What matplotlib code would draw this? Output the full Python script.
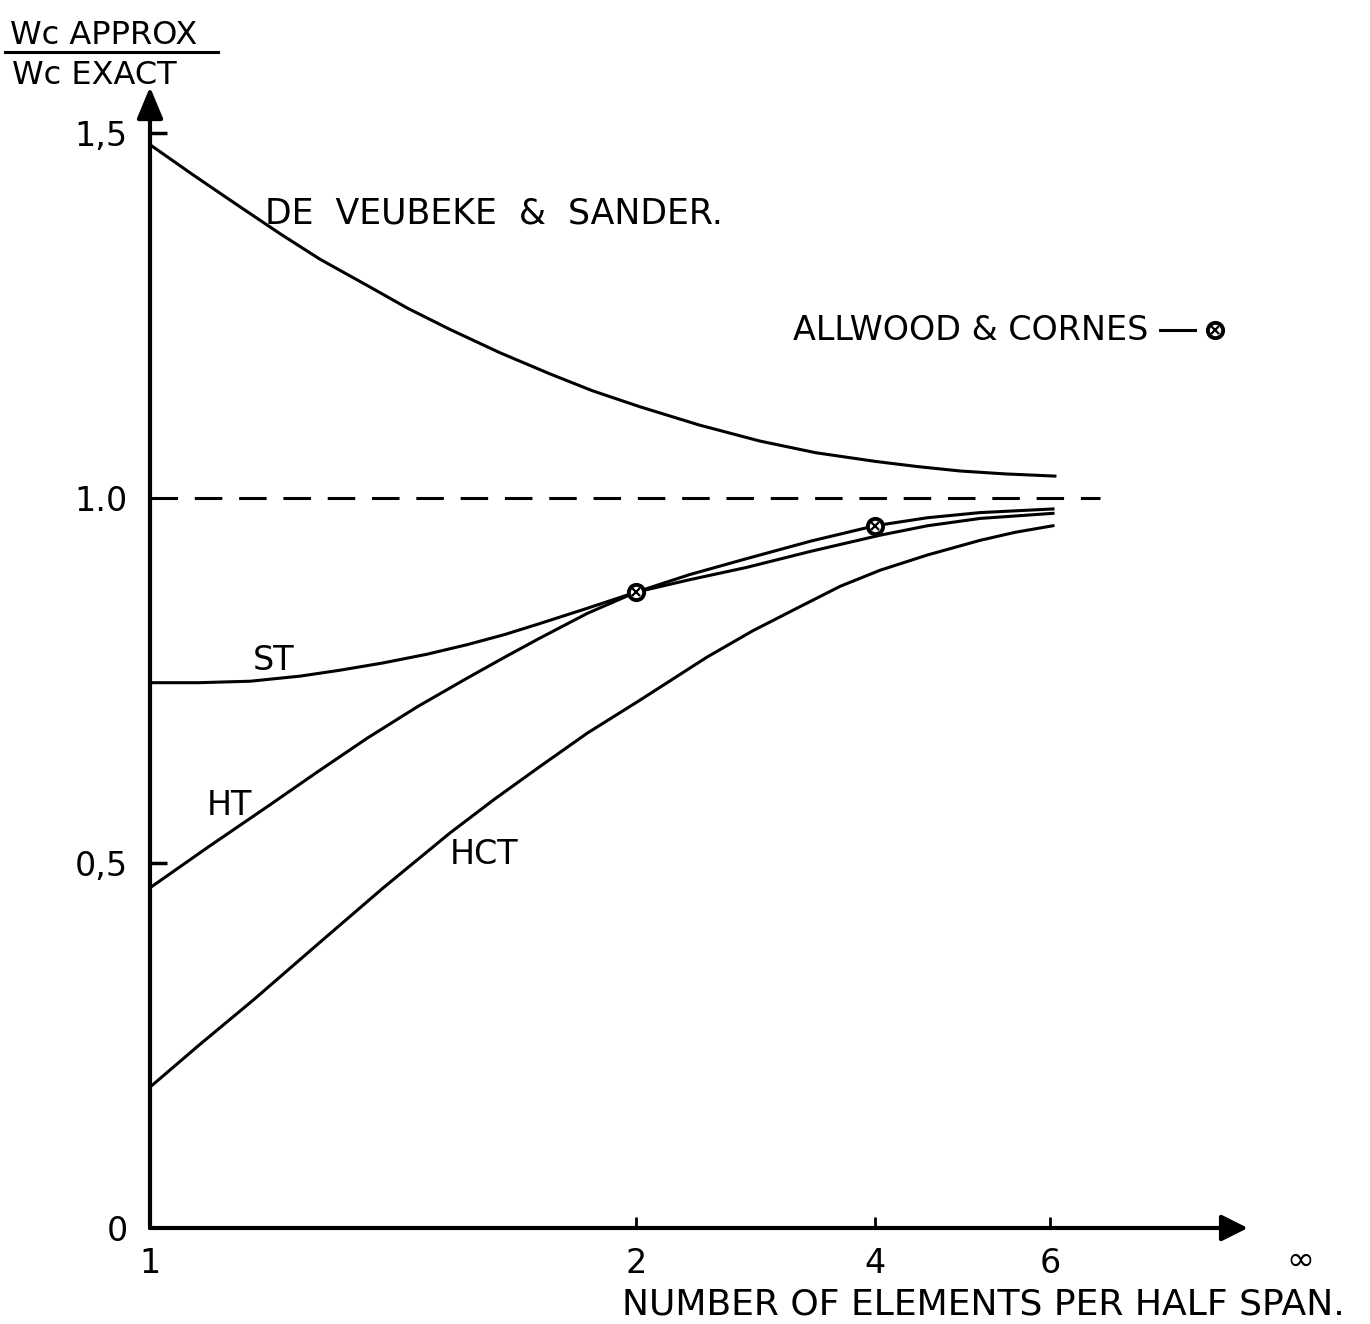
import matplotlib
matplotlib.use("Agg")
from matplotlib import pyplot as plt

# position of each element count along the drawn axis (1 element -> 0, 2 elements -> 1)
n_labels = ["1", "2", "4", "6"]
n_pos = [0.0, 1.0, 1.492, 1.852]
inf_pos = 2.366

y_ticks = [0.0, 0.5, 1.0, 1.5]
y_labels = ["0", "0,5", "1.0", "1,5"]

exact_value = 1.0

# Wc approx / Wc exact for each element
dvs_x = [0.0, 0.09, 0.185, 0.27, 0.35, 0.45, 0.53, 0.617, 0.72, 0.823,
         0.91, 1.008, 1.13, 1.255, 1.37, 1.494, 1.58, 1.667, 1.76, 1.862]
dvs_y = [1.484, 1.442, 1.399, 1.361, 1.327, 1.290, 1.260, 1.231, 1.199, 1.170,
         1.147, 1.125, 1.100, 1.078, 1.062, 1.050, 1.043, 1.037, 1.033, 1.030]

st_x = [0.0, 0.1, 0.206, 0.309, 0.39, 0.479, 0.57, 0.652, 0.73, 0.802,
        0.9, 1.0, 1.11, 1.228, 1.36, 1.502, 1.6, 1.708, 1.858]
st_y = [0.747, 0.747, 0.749, 0.756, 0.764, 0.774, 0.786, 0.799, 0.813, 0.828,
        0.849, 0.871, 0.888, 0.905, 0.927, 0.949, 0.962, 0.972, 0.979]

ht_x = [0.0, 0.12, 0.241, 0.345, 0.447, 0.55, 0.652, 0.73, 0.802, 0.9,
        1.0, 1.11, 1.228, 1.36, 1.492, 1.6, 1.708, 1.858]
ht_y = [0.466, 0.522, 0.577, 0.625, 0.671, 0.714, 0.753, 0.782, 0.808, 0.842,
        0.871, 0.895, 0.917, 0.941, 0.962, 0.973, 0.980, 0.985]

hct_x = [0.0, 0.1, 0.212, 0.356, 0.48, 0.617, 0.71, 0.802, 0.9, 1.008,
         1.146, 1.24, 1.337, 1.42, 1.502, 1.6, 1.708, 1.78, 1.858]
hct_y = [0.193, 0.250, 0.312, 0.395, 0.466, 0.541, 0.588, 0.632, 0.678, 0.723,
         0.782, 0.818, 0.851, 0.879, 0.901, 0.922, 0.942, 0.953, 0.962]

# Allwood & Cornes results at 2 and 4 elements
ac_x = [1.0, 1.492]
ac_y = [0.871, 0.962]

LW = 2.2
FS = 24

fig = plt.figure(figsize=(13.7, 13.24), dpi=100)
ax = fig.add_axes([150 / 1370, 96 / 1324, 2.4 * 486 / 1370, 1.6 * 730 / 1324])
ax.set_xlim(0, 2.4)
ax.set_ylim(0, 1.6)
for s in ax.spines.values():
    s.set_visible(False)

# axes drawn as arrows
arrow = dict(lw=3, color="black", shrinkA=0, shrinkB=0)
ax.annotate("", xy=(0, 1.563), xytext=(0, 0), annotation_clip=False,
            arrowprops=dict(arrowstyle="-|>,head_length=0.6,head_width=0.25", mutation_scale=32, **arrow))
ax.annotate("", xy=(2.259, 0), xytext=(0, 0), annotation_clip=False,
            arrowprops=dict(arrowstyle="-|>,head_length=0.5,head_width=0.25", mutation_scale=32, **arrow))

ax.set_xticks(n_pos, n_labels)
ax.set_yticks(y_ticks, y_labels)
ax.tick_params(axis="x", direction="in", length=8, width=2, pad=14, labelsize=FS)
ax.tick_params(axis="y", direction="in", length=12, width=2.5, pad=16, labelsize=FS)
ax.xaxis.get_major_ticks()[0].tick1line.set_visible(False)
for t in ax.yaxis.get_major_ticks()[::2]:
    t.tick1line.set_visible(False)
ax.text(inf_pos, -0.044, "\u221e", fontsize=FS, ha="center", va="center")

ax.hlines(exact_value, 0, 1.955, colors="black", linestyles=(0, (9, 5.5)), lw=LW)

ax.plot(dvs_x, dvs_y, color="black", lw=LW)
ax.plot(st_x, st_y, color="black", lw=LW)
ax.plot(ht_x, ht_y, color="black", lw=LW)
ax.plot(hct_x, hct_y, color="black", lw=LW)

def ac_marker(x, y):
    ax.plot(x, y, "o", ms=11, mfc="white", mec="black", mew=2.8, zorder=4, clip_on=False)
    ax.plot(x, y, "x", ms=6, mec="black", mew=1.6, zorder=5, clip_on=False)

ac_marker(ac_x, ac_y)

# curve labels
ax.text(0.237, 1.390, "DE  VEUBEKE  &  SANDER.", fontsize=25, va="center")
ax.text(0.212, 0.778, "ST", fontsize=FS, va="center")
ax.text(0.117, 0.579, "HT", fontsize=FS, va="center")
ax.text(0.617, 0.511, "HCT", fontsize=FS, va="center")

# key for the Allwood & Cornes points
ax.text(1.323, 1.230, "ALLWOOD & CORNES", fontsize=24, va="center")
ax.plot([2.078, 2.150], [1.230, 1.230], color="black", lw=LW)
ac_marker([2.191], [1.230])

# axis titles
ax.text(-0.288, 1.634, "Wc APPROX", fontsize=23, va="center")
ax.plot([-0.298, 0.140], [1.611, 1.611], color="black", lw=LW, clip_on=False)
ax.text(-0.284, 1.579, "Wc EXACT", fontsize=23, va="center")
ax.text(0.971, -0.105, "NUMBER OF ELEMENTS PER HALF SPAN.", fontsize=26, va="center")

plt.savefig("out.png", dpi=100)
